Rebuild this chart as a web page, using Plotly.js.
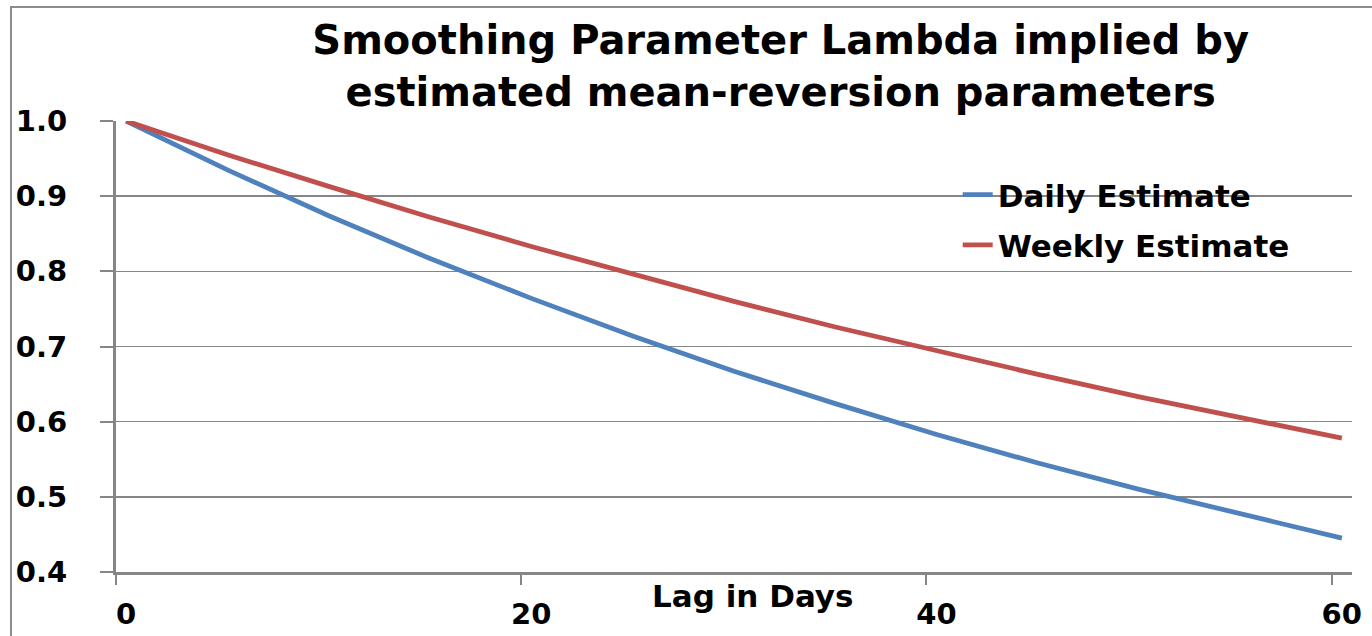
<!DOCTYPE html>
<html>
<head>
<meta charset="utf-8">
<script src="https://cdn.plot.ly/plotly-3.0.1.min.js"></script>
<style>
  html, body { margin: 0; padding: 0; background: #fff; }
  #wrap { position: relative; width: 1372px; height: 636px; }
  #chart { position: absolute; left: 0; top: 0; width: 1372px; height: 636px; }
  #frame { position: absolute; left: 10px; top: 6px; width: 1362px; height: 630px;
           border-left: 2px solid #8c8c8c; border-top: 2px solid #8c8c8c;
           pointer-events: none; box-sizing: border-box; }
</style>
</head>
<body>
<div id="wrap">
  <div id="chart"></div>
  <div id="frame"></div>
</div>
<script>
// Lag in days
const lagDays = [0, 5, 10, 15, 20, 25, 30, 35, 40, 45, 50, 55, 60];
// Daily estimate
const dailyEstimate = [1.000, 0.935, 0.874, 0.817, 0.764, 0.714, 0.667, 0.624, 0.583, 0.545, 0.510, 0.477, 0.445];
// Weekly estimate
const weeklyEstimate = [1.000, 0.955, 0.913, 0.872, 0.833, 0.796, 0.760, 0.726, 0.694, 0.663, 0.633, 0.605, 0.578];
// Tick labels
const xTickDays = [0, 20, 40, 60];
const xTickLabels = ['0', '20', '40', '60'];
const yTickValues = [0.4, 0.5, 0.6, 0.7, 0.8, 0.9, 1.0];
const yTickLabels = ['0.4', '0.5', '0.6', '0.7', '0.8', '0.9', '1.0'];
const seriesNames = ['Daily Estimate', 'Weekly Estimate'];
const titleText = 'Smoothing Parameter Lambda implied by<br>estimated mean-reversion parameters';
const xTitleText = 'Lag in Days';

const FONT = 'DejaVu Sans, Verdana, sans-serif';
const AXIS_GREY = '#868686';

const traces = [
  {
    x: lagDays, y: dailyEstimate, name: seriesNames[0], type: 'scatter', mode: 'lines',
    legendgroup: 'a',
    line: { color: '#4F81BD', width: 4.8 }
  },
  {
    x: lagDays, y: weeklyEstimate, name: seriesNames[1], type: 'scatter', mode: 'lines',
    legendgroup: 'b',
    line: { color: '#C0504D', width: 4.8 }
  }
];

const layout = {
  width: 1372, height: 636,
  margin: { l: 116, r: 20, t: 121, b: 64, pad: 0 },
  paper_bgcolor: 'rgba(0,0,0,0)',
  plot_bgcolor: '#ffffff',
  showlegend: true,
  title: {
    text: titleText,
    font: { family: FONT, size: 40, color: '#000', weight: 'bold' },
    x: 0.569, xref: 'container', xanchor: 'center',
    y: 0.915, yref: 'container', yanchor: 'middle'
  },
  xaxis: {
    range: [-0.5, 60.5],
    tickmode: 'array',
    tickvals: xTickDays.map(d => d - 0.5),
    ticktext: xTickLabels,
    ticklabelshift: 10,
    ticks: 'outside', ticklen: 10, tickwidth: 2, tickcolor: AXIS_GREY,
    ticklabelstandoff: 5,
    tickfont: { family: FONT, size: 29, color: '#000', weight: 'bold' },
    showline: true, linecolor: AXIS_GREY, linewidth: 2.5,
    showgrid: false, zeroline: false, fixedrange: true
  },
  yaxis: {
    range: [0.4, 1.0],
    tickmode: 'array',
    tickvals: yTickValues,
    ticktext: yTickLabels,
    ticks: 'outside', ticklen: 13, tickwidth: 2, tickcolor: AXIS_GREY,
    ticklabelstandoff: 27,
    tickfont: { family: FONT, size: 29, color: '#000', weight: 'bold' },
    showline: true, linecolor: AXIS_GREY, linewidth: 3,
    showgrid: true, gridcolor: AXIS_GREY, gridwidth: 1.6,
    zeroline: false, fixedrange: true
  },
  legend: {
    x: 0.681, xanchor: 'left', y: 0.896, yanchor: 'top',
    bgcolor: 'rgba(0,0,0,0)', borderwidth: 0,
    font: { family: FONT, size: 31, color: '#000', weight: 'bold' },
    tracegroupgap: 7,
    itemwidth: 30
  },
  annotations: [
    {
      text: xTitleText, showarrow: false,
      xref: 'paper', yref: 'paper',
      x: 0.515, y: -0.054, xanchor: 'center', yanchor: 'middle',
      font: { family: FONT, size: 31, color: '#000', weight: 'bold' }
    }
  ]
};

Plotly.newPlot('chart', traces, layout, { displayModeBar: false, staticPlot: true });
</script>
</body>
</html>
